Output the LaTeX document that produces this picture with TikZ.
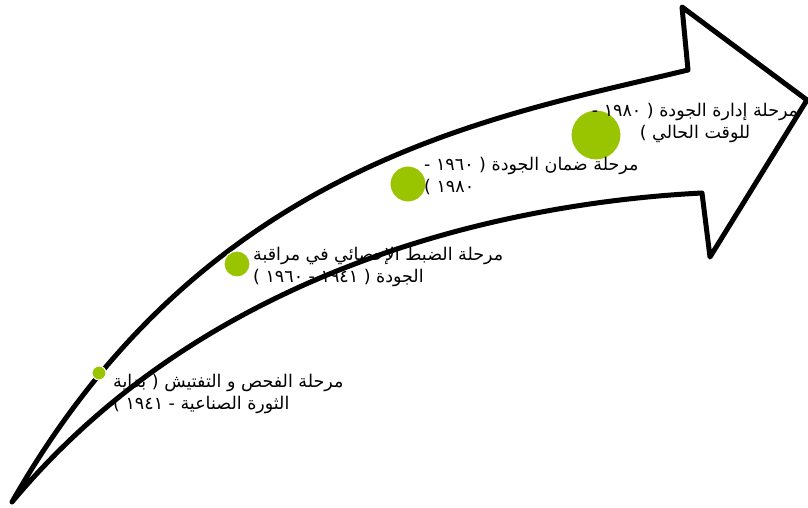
\documentclass[tikz,border=0pt]{standalone}
\usepackage{fontspec}
\newfontfamily\arabicfont[Script=Arabic]{DejaVu Sans}
\TeXXeTstate=1
\definecolor{stagegreen}{RGB}{153,196,0}

\begin{document}
\begin{tikzpicture}[x=1pt,y=-1pt,
   stagedot/.style={circle,fill=stagegreen,draw=white,line width=1pt,inner sep=0pt},
   stagelab/.style={font=\arabicfont\fontsize{17.5}{22.5}\selectfont,inner sep=0pt,align=left,anchor=west}]
  \useasboundingbox (0,0) rectangle (808,508);
  % the big curved arrow
  \draw[line width=5pt,line join=round] (12,502) .. controls (206,162) and (494,117) .. (688,70)
     -- (682,7) -- (807,100) -- (710,257) -- (702,193)
     .. controls (506,203) and (208,267) .. cycle;
  % stages
  \node[stagedot,minimum size=14pt] (dA) at (99,373) {};
  \node[stagedot,minimum size=26pt] (dB) at (237,264) {};
  \node[stagedot,minimum size=36pt] (dC) at (408,184) {};
  \node[stagedot,minimum size=50pt] (dD) at (596,135) {};
  \node[stagelab] (lA) at (113,394) {\beginR مرحلة الفحص و التفتيش ( بداية\endR\\\beginR الثورة الصناعية - ١٩٤١ )\endR};
  \node[stagelab] (lB) at (253,267) {\beginR مرحلة الضبط الإحصائي في مراقبة\endR\\\beginR الجودة ( ١٩٤١ - ١٩٦٠ )\endR};
  \node[stagelab] (lC) at (424,176) {\beginR مرحلة ضمان الجودة ( ١٩٦٠ -\endR\\\beginR ١٩٨٠ )\endR};
  \node[stagelab,align=center,anchor=center] (lD) at (695,123) {\beginR مرحلة إدارة الجودة ( ١٩٨٠ -\endR\\\beginR للوقت الحالي )\endR};
\end{tikzpicture}
\end{document}
